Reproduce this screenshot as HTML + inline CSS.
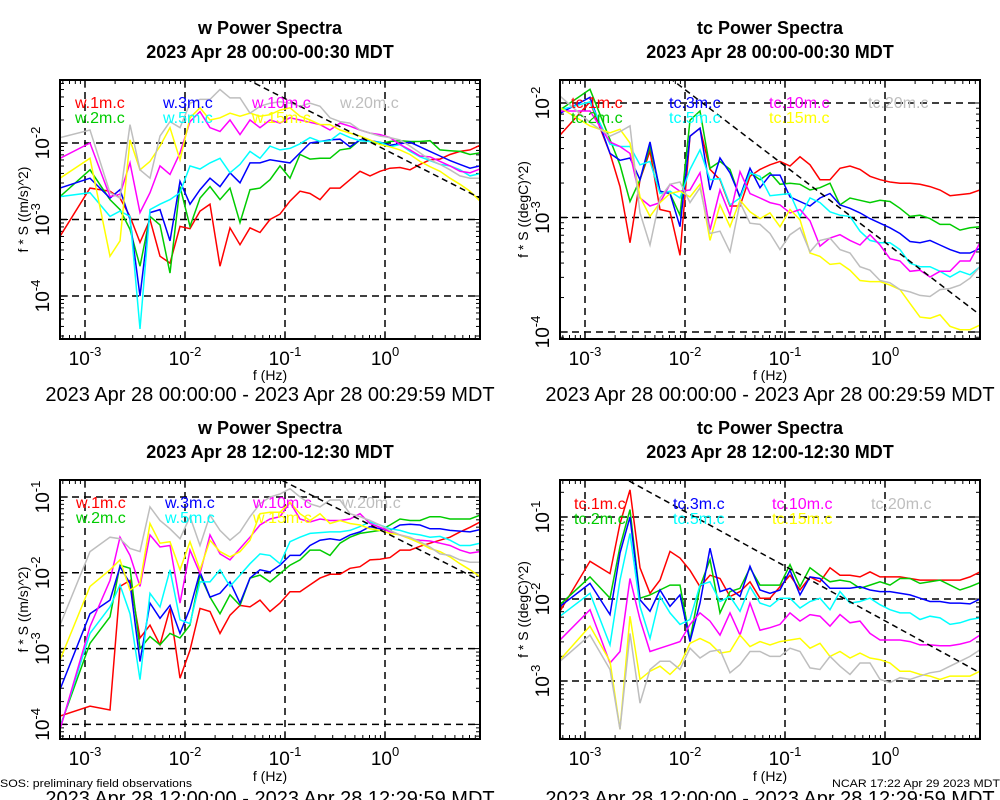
<!DOCTYPE html>
<html><head><meta charset="utf-8"><style>
html,body{margin:0;padding:0;background:#fff;}
svg{display:block;font-family:"Liberation Sans",sans-serif;}
</style></head><body>
<svg id="chart" width="1000" height="800" viewBox="0 0 1000 800" xmlns="http://www.w3.org/2000/svg"></svg>
<script>
// shared frequency axis (log10 Hz)
const freqLog = [-3.25,-2.95,-2.75,-2.65,-2.55,-2.45,-2.35,-2.25,-2.15,-2.05,-1.95,-1.85,-1.75,-1.65,-1.55,-1.45,-1.35,-1.25,-1.15,-1.05,-0.95,-0.85,-0.75,-0.65,-0.55,-0.45,-0.35,-0.25,-0.15,-0.05,0.05,0.15,0.25,0.35,0.45,0.55,0.65,0.75,0.85,0.95];
const xTickExps = [-3,-2,-1,0];
const seriesColors = ["#ff0000","#00cc00","#0000ff","#00ffff","#ff00ff","#ffff00","#bebebe"];

// Panel 1: w, 00:00 (log10 f*S)
const p1_w1 = [-3.22,-2.59,-2.63,-2.72,-2.96,-3.30,-3.00,-3.48,-3.57,-3.09,-3.12,-2.89,-2.80,-3.61,-3.11,-3.33,-3.11,-3.17,-3.00,-2.93,-2.76,-2.63,-2.66,-2.74,-2.59,-2.59,-2.48,-2.37,-2.43,-2.37,-2.33,-2.32,-2.35,-2.28,-2.22,-2.21,-2.15,-2.11,-2.09,-2.03];
const p1_w2 = [-2.70,-2.35,-2.74,-2.87,-3.13,-3.61,-2.96,-3.07,-3.70,-2.57,-3.09,-2.72,-2.57,-2.74,-2.59,-3.04,-2.61,-2.59,-2.48,-2.30,-2.46,-2.15,-2.21,-2.20,-2.20,-2.09,-2.07,-1.96,-1.98,-2.01,-1.98,-1.97,-1.98,-1.98,-1.97,-2.09,-2.10,-2.11,-2.15,-2.13];
const p1_w3 = [-2.59,-2.46,-2.72,-2.61,-3.00,-4.00,-2.91,-2.87,-3.28,-2.50,-2.80,-2.61,-2.46,-2.57,-2.39,-2.52,-2.26,-2.26,-2.22,-2.24,-2.26,-2.13,-2.00,-1.98,-1.96,-1.95,-2.05,-1.96,-1.97,-1.99,-2.03,-2.01,-1.99,-2.05,-2.11,-2.17,-2.23,-2.28,-2.33,-2.30];
const p1_w5 = [-2.70,-2.65,-2.96,-2.89,-2.96,-4.43,-2.87,-2.80,-2.74,-2.65,-2.30,-2.34,-2.26,-2.20,-2.39,-2.28,-2.11,-2.20,-2.04,-2.09,-2.07,-2.01,-1.93,-1.98,-1.97,-1.87,-1.93,-1.97,-1.98,-1.99,-2.05,-2.02,-2.11,-2.18,-2.23,-2.28,-2.30,-2.35,-2.43,-2.40];
const p1_w10 = [-2.20,-2.00,-2.70,-2.67,-2.26,-2.91,-2.65,-2.30,-2.41,-2.13,-1.72,-1.59,-1.80,-1.85,-1.70,-1.89,-1.70,-1.80,-1.70,-1.74,-1.67,-1.70,-1.73,-1.76,-1.83,-1.74,-1.78,-1.83,-1.87,-1.89,-1.93,-2.02,-2.09,-2.17,-2.18,-2.24,-2.30,-2.37,-2.39,-2.34];
const p1_w15 = [-2.46,-2.20,-3.48,-3.28,-1.96,-2.35,-2.24,-2.04,-1.80,-2.22,-1.67,-1.54,-1.70,-1.67,-1.61,-1.65,-1.61,-1.65,-1.63,-1.57,-1.54,-1.65,-1.70,-1.76,-1.76,-1.83,-1.87,-1.91,-1.96,-2.02,-2.05,-2.09,-2.15,-2.24,-2.31,-2.37,-2.46,-2.54,-2.63,-2.76];
const p1_w20 = [-1.93,-1.83,-2.65,-2.72,-1.76,-2.35,-2.46,-1.91,-1.72,-1.80,-1.48,-1.43,-1.43,-1.30,-1.41,-1.41,-1.61,-1.52,-1.48,-1.46,-1.48,-1.52,-1.48,-1.52,-1.67,-1.72,-1.74,-1.83,-1.87,-1.91,-1.93,-1.96,-2.04,-2.13,-2.22,-2.28,-2.35,-2.43,-2.46,-2.46];

// Panel 2: tc, 00:00
const p2_tc1 = [-2.28,-1.99,-2.44,-2.73,-3.22,-2.67,-2.42,-2.93,-2.95,-3.33,-2.29,-2.22,-2.58,-2.67,-2.90,-2.90,-2.64,-2.58,-2.54,-2.51,-2.55,-2.47,-2.54,-2.67,-2.67,-2.57,-2.55,-2.58,-2.64,-2.67,-2.69,-2.70,-2.70,-2.71,-2.73,-2.76,-2.81,-2.80,-2.79,-2.76];
const p2_tc2 = [-2.06,-1.88,-2.32,-2.54,-2.86,-2.67,-2.38,-2.77,-2.79,-2.98,-2.15,-2.07,-2.57,-2.51,-2.58,-2.83,-2.61,-2.67,-2.61,-2.71,-2.70,-2.71,-2.76,-2.74,-2.70,-2.89,-2.83,-2.85,-2.87,-2.85,-2.86,-2.92,-2.99,-2.98,-3.01,-3.06,-3.06,-3.11,-3.09,-3.08];
const p2_tc3 = [-2.09,-1.95,-2.44,-2.50,-2.48,-2.67,-2.34,-2.77,-2.79,-3.08,-2.29,-2.22,-2.76,-2.48,-2.61,-2.82,-2.57,-2.74,-2.63,-2.63,-2.82,-2.86,-2.90,-2.83,-2.79,-2.89,-2.92,-2.96,-3.01,-3.05,-3.09,-3.14,-3.21,-3.22,-3.20,-3.24,-3.28,-3.31,-3.31,-3.27];
const p2_tc5 = [-2.06,-1.99,-2.36,-2.38,-2.38,-2.54,-2.51,-2.79,-2.77,-2.83,-2.58,-2.41,-2.67,-2.66,-2.89,-2.83,-2.61,-2.64,-2.81,-2.80,-2.79,-2.99,-2.83,-2.87,-2.95,-2.98,-2.99,-3.12,-3.20,-3.22,-3.22,-3.28,-3.40,-3.43,-3.43,-3.47,-3.52,-3.47,-3.50,-3.43];
const p2_tc10 = [-2.07,-2.07,-2.34,-2.38,-2.44,-2.83,-2.90,-2.87,-2.71,-2.77,-2.76,-2.61,-3.11,-2.76,-2.98,-2.60,-2.79,-2.83,-2.87,-2.89,-2.96,-2.93,-3.03,-3.25,-3.18,-3.15,-3.20,-3.24,-3.15,-3.24,-3.36,-3.38,-3.47,-3.46,-3.52,-3.47,-3.47,-3.38,-3.38,-3.22];
const p2_tc15 = [-2.04,-2.20,-2.26,-2.23,-2.35,-2.82,-2.99,-2.87,-2.79,-2.77,-2.82,-2.71,-3.20,-2.89,-3.08,-2.85,-2.95,-3.01,-2.96,-3.08,-2.93,-3.02,-3.31,-3.34,-3.41,-3.40,-3.46,-3.55,-3.56,-3.56,-3.59,-3.63,-3.75,-3.87,-3.88,-3.85,-3.95,-3.98,-3.98,-3.94];
const p2_tc20 = [-1.94,-2.17,-2.29,-2.25,-2.20,-2.96,-3.24,-2.83,-2.71,-2.69,-2.87,-2.74,-3.14,-3.12,-3.30,-2.87,-3.05,-3.06,-3.14,-3.28,-3.15,-3.09,-3.30,-3.20,-3.18,-3.28,-3.31,-3.43,-3.46,-3.55,-3.57,-3.63,-3.65,-3.68,-3.69,-3.63,-3.62,-3.59,-3.53,-3.43];

// Panel 3: w, 12:00
const p3_w1 = [-3.89,-3.76,-3.81,-2.18,-2.10,-2.86,-2.69,-2.95,-2.47,-3.39,-3.02,-2.47,-2.51,-2.80,-2.56,-2.43,-2.45,-2.36,-2.51,-2.40,-2.25,-2.25,-2.16,-2.07,-2.02,-2.02,-1.94,-1.92,-1.83,-1.82,-1.80,-1.70,-1.70,-1.65,-1.61,-1.57,-1.53,-1.46,-1.40,-1.33];
const p3_w2 = [-4.03,-2.93,-2.58,-1.90,-1.94,-3.00,-2.84,-2.95,-2.80,-2.86,-2.69,-2.03,-2.32,-2.54,-2.29,-2.43,-2.07,-2.03,-2.12,-2.01,-1.90,-1.83,-1.70,-1.70,-1.77,-1.61,-1.53,-1.48,-1.46,-1.44,-1.37,-1.29,-1.31,-1.31,-1.26,-1.26,-1.29,-1.29,-1.29,-1.24];
const p3_w3 = [-3.54,-2.54,-2.36,-1.92,-2.14,-3.17,-2.40,-2.60,-2.43,-2.80,-2.47,-1.99,-2.32,-2.27,-2.12,-2.40,-2.07,-1.96,-1.99,-1.90,-1.77,-1.77,-1.64,-1.57,-1.55,-1.57,-1.50,-1.46,-1.39,-1.42,-1.44,-1.37,-1.36,-1.37,-1.42,-1.42,-1.44,-1.45,-1.46,-1.43];
const p3_w5 = [-4.05,-2.80,-2.45,-2.16,-2.54,-3.41,-2.27,-2.45,-1.96,-2.62,-2.67,-2.12,-2.12,-1.96,-2.18,-2.03,-1.88,-1.75,-1.77,-1.88,-1.59,-1.53,-1.48,-1.47,-1.46,-1.46,-1.44,-1.39,-1.33,-1.37,-1.42,-1.44,-1.48,-1.50,-1.53,-1.52,-1.57,-1.64,-1.64,-1.61];
const p3_w10 = [-4.07,-2.71,-2.10,-1.53,-1.77,-2.18,-1.50,-1.66,-1.64,-2.40,-1.70,-2.01,-1.50,-1.75,-1.83,-1.68,-1.53,-1.37,-1.29,-1.26,-1.07,-1.29,-1.33,-1.29,-1.31,-1.31,-1.29,-1.22,-1.35,-1.40,-1.46,-1.50,-1.55,-1.57,-1.58,-1.61,-1.64,-1.70,-1.74,-1.72];
const p3_w15 = [-3.15,-2.18,-1.96,-1.83,-2.23,-2.14,-1.35,-1.61,-1.59,-1.96,-1.59,-1.96,-1.57,-1.72,-1.79,-1.72,-1.57,-1.22,-1.20,-1.20,-1.07,-1.22,-1.31,-1.22,-1.35,-1.31,-1.35,-1.37,-1.42,-1.44,-1.48,-1.50,-1.55,-1.61,-1.68,-1.72,-1.79,-1.88,-1.96,-2.05];
const p3_w20 = [-2.69,-1.72,-1.53,-1.55,-1.68,-1.72,-1.13,-1.31,-1.42,-1.55,-1.26,-1.64,-1.24,-1.44,-1.57,-1.46,-1.26,-1.09,-1.00,-0.96,-0.89,-1.00,-1.09,-1.13,-1.04,-1.04,-1.22,-1.26,-1.31,-1.37,-1.44,-1.50,-1.53,-1.59,-1.66,-1.75,-1.77,-1.83,-1.86,-1.86];

// Panel 4: tc, 12:00
const p4_tc1 = [-2.15,-1.54,-1.69,-1.08,-0.67,-1.62,-1.93,-1.77,-1.42,-1.50,-1.65,-1.85,-1.71,-1.75,-1.97,-1.91,-1.79,-1.99,-1.99,-1.85,-1.71,-1.89,-1.73,-1.79,-1.62,-1.71,-1.71,-1.73,-1.67,-1.73,-1.73,-1.73,-1.75,-1.77,-1.77,-1.77,-1.77,-1.77,-1.73,-1.67];
const p4_tc2 = [-2.07,-1.73,-1.99,-1.36,-0.91,-1.99,-1.95,-1.89,-1.83,-1.83,-2.50,-1.85,-1.52,-2.17,-1.91,-1.87,-1.62,-1.83,-1.83,-1.83,-1.58,-1.85,-1.62,-1.71,-1.79,-1.77,-1.79,-1.87,-1.83,-1.79,-1.83,-1.75,-1.75,-1.81,-1.79,-1.77,-1.83,-1.89,-1.85,-1.80];
const p4_tc3 = [-2.09,-1.81,-2.19,-1.44,-1.00,-2.01,-2.15,-1.89,-2.09,-1.95,-2.52,-2.05,-1.38,-1.91,-1.87,-1.97,-1.60,-1.89,-1.93,-1.89,-1.65,-1.95,-1.73,-1.75,-1.87,-1.87,-1.87,-1.85,-1.89,-1.91,-1.91,-1.93,-1.95,-1.99,-2.03,-2.03,-2.05,-2.05,-2.06,-2.00];
const p4_tc5 = [-2.21,-1.93,-2.56,-1.77,-1.20,-2.09,-2.48,-1.97,-2.17,-2.31,-2.25,-1.83,-1.79,-2.03,-1.97,-2.15,-1.85,-2.05,-2.09,-1.99,-1.99,-2.11,-2.03,-1.99,-2.13,-1.91,-2.05,-2.03,-1.99,-2.07,-2.13,-2.17,-2.17,-2.25,-2.21,-2.23,-2.31,-2.29,-2.25,-2.23];
const p4_tc10 = [-2.50,-2.13,-2.78,-2.64,-1.75,-2.25,-2.64,-2.60,-2.56,-2.52,-2.31,-2.17,-2.27,-2.44,-2.17,-2.44,-2.05,-2.38,-2.35,-2.31,-2.17,-2.27,-2.19,-2.21,-2.33,-2.19,-2.29,-2.27,-2.42,-2.50,-2.50,-2.50,-2.52,-2.56,-2.56,-2.57,-2.57,-2.55,-2.52,-2.44];
const p4_tc15 = [-2.74,-2.33,-2.76,-3.59,-2.21,-2.98,-2.88,-2.82,-2.92,-2.80,-2.54,-2.48,-2.54,-2.66,-2.64,-2.44,-2.58,-2.52,-2.56,-2.52,-2.50,-2.48,-2.60,-2.54,-2.70,-2.64,-2.72,-2.66,-2.72,-2.74,-2.78,-2.88,-2.88,-2.92,-2.94,-2.98,-2.94,-2.94,-2.94,-2.88];
const p4_tc20 = [-2.76,-2.44,-2.86,-3.59,-2.42,-3.27,-2.86,-2.76,-2.76,-2.86,-2.60,-2.72,-2.64,-2.62,-2.90,-2.80,-2.64,-2.64,-2.70,-2.70,-2.60,-2.64,-2.84,-2.86,-2.70,-2.82,-2.92,-2.78,-2.78,-2.98,-3.02,-2.96,-2.98,-2.94,-2.90,-2.88,-2.82,-2.76,-2.70,-2.62];

// reference slope line: log10 value at right edge of each panel, slope -2/3
const refLineRight = [-2.72,-3.85,-2.10,-2.90];
const refSlope = -2/3;

const wNames = ["w.1m.c","w.3m.c","w.10m.c","w.20m.c","w.2m.c","w.5m.c","w.15m.c"];
const tcNames = ["tc.1m.c","tc.3m.c","tc.10m.c","tc.20m.c","tc.2m.c","tc.5m.c","tc.15m.c"];

const NS = "http://www.w3.org/2000/svg";
const svg = document.getElementById('chart');
function mk(tag, attrs, parent){
  const e = document.createElementNS(NS, tag);
  for (const k in attrs) e.setAttribute(k, attrs[k]);
  (parent||svg).appendChild(e);
  return e;
}

const panels = [
  {key:'w-top', left:60, right:480, top:80, bottom:339, y0:-2, y0px:143, dec:76.5, yExps:[-2,-3,-4],
   title:'w Power Spectra', sub:'2023 Apr 28 00:00-00:30 MDT', ylab:'f * S ((m/s)^2)', names:wNames,
   series:[p1_w1,p1_w2,p1_w3,p1_w5,p1_w10,p1_w15,p1_w20], legX:[75,163,252,340], legY:108, cx:270, titleY:34,
   xlabOff:41, dateOff:62,
   date:'2023 Apr 28 00:00:00 - 2023 Apr 28 00:29:59 MDT'},
  {key:'tc-top', left:560, right:980, top:80, bottom:339, y0:-2, y0px:103, dec:114.5, yExps:[-2,-3,-4],
   title:'tc Power Spectra', sub:'2023 Apr 28 00:00-00:30 MDT', ylab:'f * S ((degC)^2)', names:tcNames,
   series:[p2_tc1,p2_tc2,p2_tc3,p2_tc5,p2_tc10,p2_tc15,p2_tc20], legX:[571,669,769,868], legY:108, cx:770, titleY:34,
   xlabOff:41, dateOff:62,
   date:'2023 Apr 28 00:00:00 - 2023 Apr 28 00:29:59 MDT'},
  {key:'w-bottom', left:60, right:480, top:480, bottom:739, y0:-1, y0px:497, dec:75.8, yExps:[-1,-2,-3,-4],
   title:'w Power Spectra', sub:'2023 Apr 28 12:00-12:30 MDT', ylab:'f * S ((m/s)^2)', names:wNames,
   series:[p3_w1,p3_w2,p3_w3,p3_w5,p3_w10,p3_w15,p3_w20], legX:[76,165,253,342], legY:508, cx:270, titleY:434,
   xlabOff:42, dateOff:66,
   date:'2023 Apr 28 12:00:00 - 2023 Apr 28 12:29:59 MDT'},
  {key:'tc-bottom', left:560, right:980, top:480, bottom:739, y0:-1, y0px:517, dec:82, yExps:[-1,-2,-3],
   title:'tc Power Spectra', sub:'2023 Apr 28 12:00-12:30 MDT', ylab:'f * S ((degC)^2)', names:tcNames,
   series:[p4_tc1,p4_tc2,p4_tc3,p4_tc5,p4_tc10,p4_tc15,p4_tc20], legX:[574,673,772,871], legY:509, cx:770, titleY:434,
   xlabOff:42, dateOff:66,
   date:'2023 Apr 28 12:00:00 - 2023 Apr 28 12:29:59 MDT'}
];
const legendOrder = [[0,1],[2,3],[4,5],[6]];

panels.forEach((p, pi) => {
  const g = mk('g', {});
  
  
  const xs = v => p.left + 25 + 100 * (v + 3);
  const ys = v => p.y0px - (v - p.y0) * p.dec;
  const clipId = 'clip' + pi;
  const cp = mk('clipPath', {id: clipId}, g);
  mk('rect', {x:p.left, y:p.top, width:p.right-p.left, height:p.bottom-p.top}, cp);

  const t1 = mk('text', {x:p.cx, y:p.titleY, 'text-anchor':'middle', 'font-size':18, 'font-weight':'bold'}, g);
  t1.textContent = p.title;
  
  
  const t2 = mk('text', {x:p.cx, y:p.titleY+24, 'text-anchor':'middle', 'font-size':18, 'font-weight':'bold'}, g);
  t2.textContent = p.sub;
  
  

  const grid = mk('g', {stroke:'#000', 'stroke-width':1.5, 'stroke-dasharray':'7,5', 'clip-path':'url(#'+clipId+')'}, g);
  
  
  xTickExps.forEach(e => mk('line', {x1:xs(e), x2:xs(e), y1:p.top, y2:p.bottom}, grid));
  p.yExps.forEach(e => mk('line', {x1:p.left, x2:p.right, y1:ys(e), y2:ys(e)}, grid));

  const ticks = mk('g', {stroke:'#000', 'stroke-width':1}, g);
  
  
  for (let e = -4; e <= 0; e++) for (let m = 1; m < 10; m++) {
    const x = xs(e + Math.log10(m));
    if (x < p.left || x > p.right) continue;
    const L = m === 1 ? 8 : 4;
    mk('line', {x1:x, x2:x, y1:p.bottom, y2:p.bottom-L}, ticks);
    mk('line', {x1:x, x2:x, y1:p.top, y2:p.top+L}, ticks);
  }
  for (let e = -6; e <= 1; e++) for (let m = 1; m < 10; m++) {
    const y = ys(e + Math.log10(m));
    if (y < p.top || y > p.bottom) continue;
    const L = m === 1 ? 8 : 4;
    mk('line', {x1:p.left, x2:p.left+L, y1:y, y2:y}, ticks);
    mk('line', {x1:p.right, x2:p.right-L, y1:y, y2:y}, ticks);
  }

  const sg = mk('g', {'clip-path':'url(#'+clipId+')', fill:'none', 'stroke-width':1.5}, g);
  
  
  p.series.forEach((arr, si) => {
    const d = arr.map((v, i) => (i ? 'L' : 'M') + xs(freqLog[i]).toFixed(1) + ',' + ys(v).toFixed(1)).join('');
    const path = mk('path', {d:d, stroke:seriesColors[si]}, sg);
    
    
  });

  const xl = freqLog[0] - 0.1, xr = freqLog[freqLog.length-1];
  const yr = refLineRight[pi], yl = yr + refSlope * (xl - xr);
  const ref = mk('line', {x1:xs(xl), y1:ys(yl), x2:xs(xr), y2:ys(yr), stroke:'#000', 'stroke-width':1.5, 'stroke-dasharray':'6,4', 'clip-path':'url(#'+clipId+')'}, g);
  
  

  const fr = mk('rect', {x:p.left, y:p.top, width:p.right-p.left, height:p.bottom-p.top, fill:'none', stroke:'#000', 'stroke-width':2}, g);
  
  

  legendOrder.forEach((col, ci) => {
    col.forEach((si, ri) => {
      const nameIdx = ri === 0 ? ci : 4 + ci;
      const colorIdx = {0:0,1:2,2:4,3:6,4:1,5:3,6:5}[nameIdx];
      const lt = mk('text', {x:p.legX[ci], y:p.legY + ri*15, 'font-size':16, fill:seriesColors[colorIdx]}, g);
      lt.textContent = p.names[nameIdx];
      
      
    });
  });

  xTickExps.forEach(e => {
    const t = mk('text', {x:xs(e), y:p.bottom+26, 'text-anchor':'middle', 'font-size':19}, g);
    
    
    t.appendChild(document.createTextNode('10'));
    const s = mk('tspan', {dy:-9, 'font-size':13}, t);
    s.textContent = String(e);
  });
  p.yExps.forEach(e => {
    const t = mk('text', {x:0, y:0, 'text-anchor':'middle', 'font-size':19, transform:'translate(' + (p.left-11) + ',' + ys(e) + ') rotate(-90)'}, g);
    
    
    t.appendChild(document.createTextNode('10'));
    const s = mk('tspan', {dy:-9, 'font-size':13}, t);
    s.textContent = String(e);
  });

  const xt = mk('text', {x:p.cx, y:p.bottom+p.xlabOff, 'text-anchor':'middle', 'font-size':14}, g);
  xt.textContent = 'f (Hz)';
  
  
  const yt = mk('text', {x:0, y:0, 'text-anchor':'middle', 'font-size':14, transform:'translate(' + (p.left-32) + ',' + ((p.top+p.bottom)/2) + ') rotate(-90)'}, g);
  yt.textContent = p.ylab;
  
  

  const dt = mk('text', {x:p.cx, y:p.bottom+p.dateOff, 'text-anchor':'middle', 'font-size':20}, g);
  dt.textContent = p.date;
  
  
});

const f1 = mk('text', {x:0, y:787, 'font-size':11, textLength:192, lengthAdjust:'spacingAndGlyphs'});
f1.textContent = 'SOS: preliminary field observations';


const f2 = mk('text', {x:1000, y:787, 'font-size':11, 'text-anchor':'end', textLength:168, lengthAdjust:'spacingAndGlyphs'});
f2.textContent = 'NCAR 17:22 Apr 29 2023 MDT';


</script>
</body></html>
